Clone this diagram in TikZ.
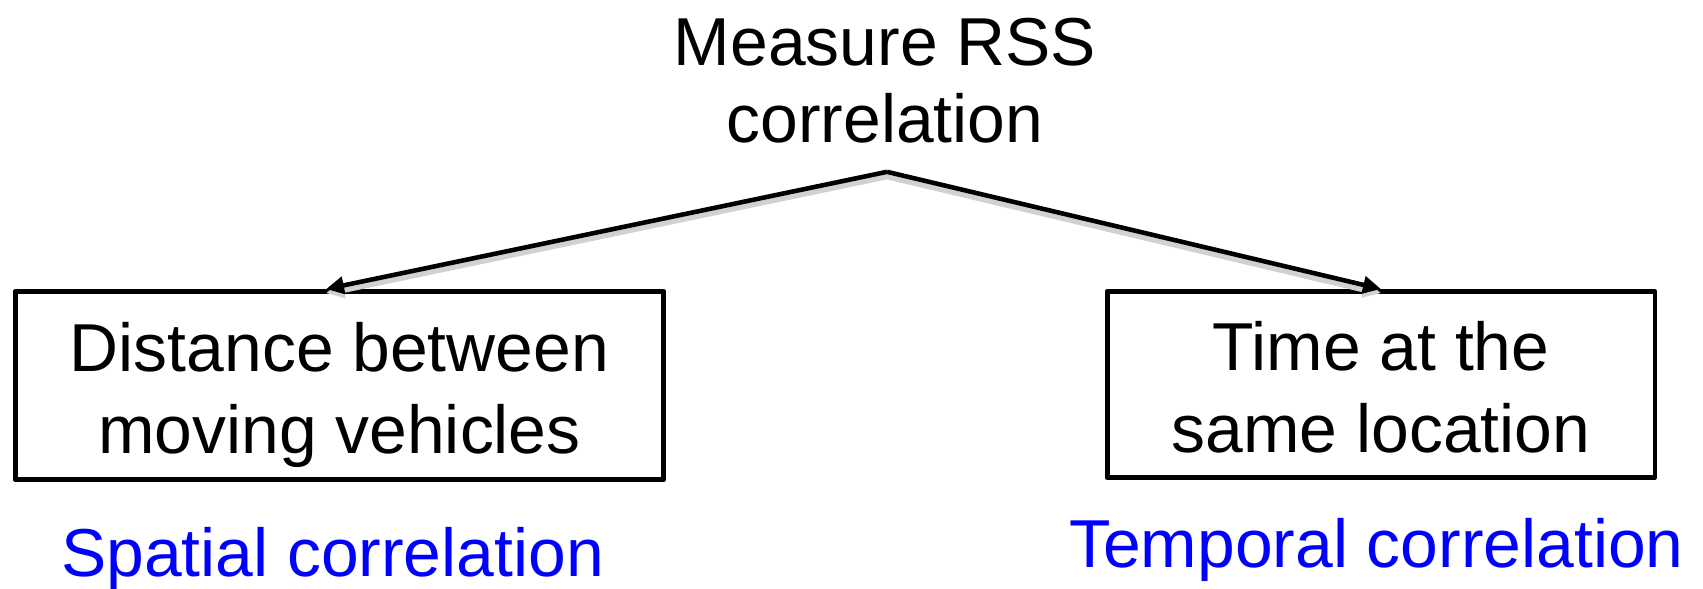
\documentclass[tikz,border=0pt]{standalone}
\usepackage{fontspec}
\setmainfont{Liberation Sans}
\usetikzlibrary{arrows.meta,positioning}

\begin{document}
\begin{tikzpicture}[x=0.02cm,y=-0.02cm]
   \tikzstyle{cause box}=[draw, line width=2.8pt, line join=round, inner sep=0pt, align=center, font=\fontsize{38.6pt}{46.7pt}\selectfont]
   \tikzstyle{kind text}=[inner sep=0pt, anchor=base, text=blue, font=\fontsize{38.6pt}{46.7pt}\selectfont]
   \tikzstyle{branch}=[line width=2.6pt, -{Triangle[length=0.36cm,width=0.34cm]},
       preaction={draw=black!18, line width=4pt, transform canvas={yshift=-0.08cm}}]

\useasboundingbox (0,0) rectangle (1703,588);

\node[inner sep=0pt, align=center, font=\fontsize{38.6pt}{43.8pt}\selectfont] (rss) at (885,81) {Measure RSS\\correlation};
\coordinate[below=0.56cm of rss.south, xshift=0.04cm] (apex);

\node[cause box, minimum width=12.98cm, minimum height=3.76cm] (dist) at (339.5,385.5)
    {\rule{0pt}{1.02em}Distance between\\moving vehicles\rule[-0.21em]{0pt}{0.21em}};
\node[cause box, minimum width=10.96cm, minimum height=3.72cm] (time) at (1381,384.5)
    {\rule{0pt}{1.02em}Time at the\\same location\rule[-0.21em]{0pt}{0.21em}};

\draw[branch] (apex) -- ([xshift=-0.27cm]dist.north);
\draw[branch] (apex) -- (time.north);

\node[kind text] (spatial) at (332.5,576) {Spatial correlation};
\node[kind text] (temporal) at (1376.5,567) {Temporal correlation};

\end{tikzpicture}
\end{document}
